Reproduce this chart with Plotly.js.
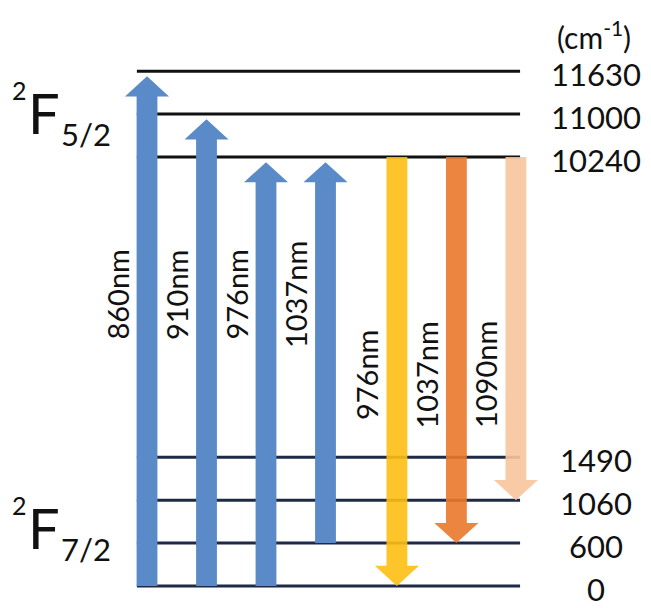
<!DOCTYPE html>
<html>
<head>
<meta charset="utf-8">
<script src="https://cdn.plot.ly/plotly-3.0.1.min.js"></script>
<style>html,body{margin:0;padding:0;background:#fff;}#chart{width:651px;height:608px;}</style>
</head>
<body>
<div id="chart"></div>
<script>
// ---- data ----
const levelEnergies = [0, 600, 1060, 1490, 10240, 11000, 11630];
const levelLabels = ['0', '600', '1060', '1490', '10240', '11000', '11630'];
const levelManifold = ['7/2', '7/2', '7/2', '7/2', '5/2', '5/2', '5/2'];
const manifoldNames = ['5/2', '7/2'];
const transLabels = ['860nm', '910nm', '976nm', '1037nm', '976nm', '1037nm', '1090nm'];
const transFrom = [0, 0, 0, 600, 10240, 10240, 10240];
const transTo = [11630, 11000, 10240, 10240, 0, 600, 1060];
const transKind = ['abs', 'abs', 'abs', 'abs', 'em', 'em', 'em'];
const unitLabel = '(cm<sup>-1</sup>)';

// ---- styles / layout helpers ----
const W = 651, H = 608;
const emColors = ['#FDBF13', '#E9782A', '#F8C49C'];
const absColor = '#5A8AC8';
const FONT = 'Lato, "Open Sans", sans-serif';

// diagram slot for each level (levels are not drawn to scale)
function slotOf(e) {
  const i = levelEnergies.indexOf(e);
  const m = levelManifold[i];
  const same = levelEnergies.filter((v, k) => levelManifold[k] === m).sort((a, b) => a - b);
  const rank = same.indexOf(e);
  return (m === '5/2' ? 10 : 0) + rank;
}
function xOf(i) { return i + (transKind[i] === 'em' ? 0.2 : 0); }

const xRange = [-147 / 59.5, (W - 147) / 59.5];
const yRange = [(586 - H) / 42.9, 586 / 42.9];

const shapes = [];
// level lines
levelEnergies.forEach((e, i) => {
  shapes.push({
    type: 'line', xref: 'x', yref: 'y', layer: 'above',
    x0: -0.17, x1: 6.27, y0: slotOf(e), y1: slotOf(e),
    line: { color: levelManifold[i] === '5/2' ? '#111111' : '#1E2A48', width: 3 }
  });
});
// arrows
const shaftW = 0.175, headW = 0.37, headL = 0.47;
let emIdx = 0;
transLabels.forEach((t, i) => {
  const x = xOf(i);
  const y0 = slotOf(transFrom[i]);
  const up = transKind[i] === 'abs';
  const tip = up ? slotOf(transTo[i]) - 0.12 : slotOf(transTo[i]);
  const yb = up ? tip - headL : tip + headL;
  const p = `M ${x - shaftW},${y0} L ${x - shaftW},${yb} L ${x - headW},${yb} L ${x},${tip} L ${x + headW},${yb} L ${x + shaftW},${yb} L ${x + shaftW},${y0} Z`;
  const col = up ? absColor : emColors[emIdx++];
  shapes.push({
    type: 'path', xref: 'x', yref: 'y', layer: 'above', path: p,
    fillcolor: col, line: { width: 0 }, opacity: up ? 1 : 0.9
  });
});

const annotations = [];
// transition labels
transLabels.forEach((t, i) => {
  const up = transKind[i] === 'abs';
  annotations.push({
    xref: 'x', yref: 'y', x: xOf(i) - 0.5, y: up ? 6.8 : 4.92,
    text: t, textangle: -90, showarrow: false,
    xanchor: 'center', yanchor: 'middle',
    font: { family: FONT, size: 29, color: '#111' }
  });
});
// level value labels
levelEnergies.forEach((e, i) => {
  annotations.push({
    xref: 'paper', yref: 'y', x: 596 / W, y: slotOf(e) - 0.07,
    text: levelLabels[i], showarrow: false, xanchor: 'center', yanchor: 'middle',
    font: { family: FONT, size: 31, color: '#111' }
  });
});
// unit label
annotations.push({
  xref: 'paper', yref: 'paper', x: 594 / W, y: 1 - 35 / H,
  text: unitLabel, showarrow: false, xanchor: 'center', yanchor: 'middle',
  font: { family: FONT, size: 30, color: '#111' }
});
// manifold term symbols
manifoldNames.forEach(m => {
  const top = m === '5/2';
  const cy = top ? 112 : 527;
  annotations.push({ xref: 'paper', yref: 'paper', x: 19 / W, y: 1 - (cy - 22) / H, text: '2',
    showarrow: false, xanchor: 'center', yanchor: 'middle', font: { family: FONT, size: 25, color: '#111' } });
  annotations.push({ xref: 'paper', yref: 'paper', x: 44 / W, y: 1 - cy / H, text: 'F',
    showarrow: false, xanchor: 'center', yanchor: 'middle', font: { family: FONT, size: 56, color: '#111' } });
  annotations.push({ xref: 'paper', yref: 'paper', x: 86 / W, y: 1 - (cy + 22) / H, text: m,
    showarrow: false, xanchor: 'center', yanchor: 'middle', font: { family: FONT, size: 31, color: '#111' } });
});

const layout = {
  width: W, height: H,
  margin: { l: 0, r: 0, t: 0, b: 0 },
  paper_bgcolor: '#ffffff', plot_bgcolor: '#ffffff',
  showlegend: false,
  xaxis: { range: xRange, visible: false, fixedrange: true },
  yaxis: { range: yRange, visible: false, fixedrange: true },
  shapes: shapes,
  annotations: annotations
};
Plotly.newPlot('chart', [{ x: [], y: [], type: 'scatter', mode: 'markers', hoverinfo: 'skip' }], layout, { staticPlot: true, displayModeBar: false });
</script>
</body>
</html>
